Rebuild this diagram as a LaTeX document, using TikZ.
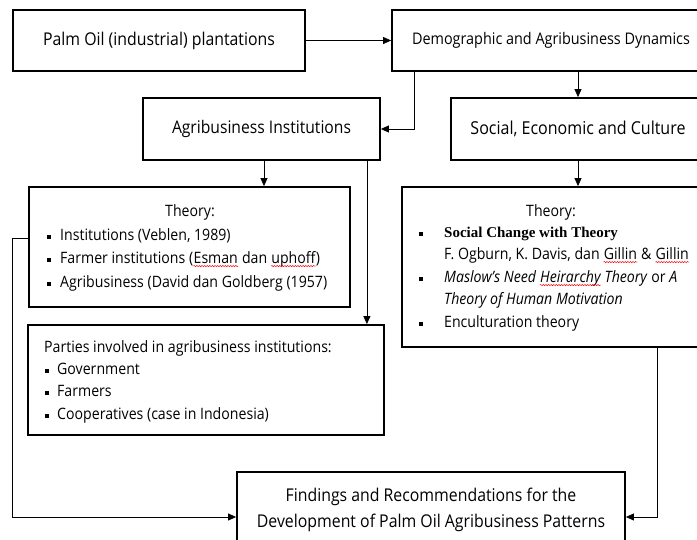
\documentclass[tikz,border=0pt]{standalone}
\usepackage{fontspec}
\setmainfont{Open Sans}[FakeStretch=0.9]
\newfontfamily\serifbold{Liberation Serif}
\usetikzlibrary{arrows.meta,decorations.pathmorphing}
\newcommand\spellmark[1]{\tikz[baseline=(sw.base)]{\node[inner sep=0pt,anchor=base west](sw) at (0,0) {#1};\draw[red, line width=0.5pt, decorate, decoration={snake, amplitude=0.6pt, segment length=2.6pt}] ([yshift=-2.4pt]sw.base west) -- ([yshift=-2.4pt]sw.base east);}}
\newcommand\bulletsq{\rule[0.12em]{4.2pt}{4.2pt}}
\tikzset{
  box/.style={draw, line width=1.8pt, rectangle, inner sep=0pt, align=center},
  arr/.style={line width=0.8pt, -{Triangle[length=8pt,width=7pt]}},
  txt/.style={inner sep=0pt, anchor=mid west},
  ctxt/.style={inner sep=0pt, anchor=mid},
}
\begin{document}
\begin{tikzpicture}[x=1pt,y=-1pt]
\useasboundingbox (0,0) rectangle (697,540);
\clip (0,0) rectangle (697,540);
\fill[white] (0,0) rectangle (697,540);

% boxes
\node[box, minimum width=292pt, minimum height=61pt, font=\fontsize{17.6}{20}\selectfont] (b1) at (159,40.5) {Palm Oil (industrial) plantations};
\node[box, minimum width=318pt, minimum height=61pt, font=\fontsize{16}{18}\selectfont] (b2) at (551,40.5) {Demographic and Agribusiness Dynamics};
\node[box, minimum width=237pt, minimum height=62pt, font=\fontsize{17.4}{20}\selectfont] (b3) at (261.5,129) {Agribusiness Institutions};
\node[box, minimum width=254pt, minimum height=62pt, font=\fontsize{17.8}{20}\selectfont] (b4) at (578,129) {Social, Economic and Culture};
\node[box, minimum width=321pt, minimum height=120pt] (b5) at (189.5,247) {};
\node[box, minimum width=356pt, minimum height=110pt] (b6) at (206,380) {};
\node[box, minimum width=303pt, minimum height=160pt] (b7) at (553.5,267) {};
\node[box, minimum width=388pt, minimum height=76pt, font=\fontsize{17.6}{26}\selectfont] (b8) at (431,510) {Findings and Recommendations for the\\Development of Palm Oil Agribusiness Patterns};

\begin{scope}[font=\fontsize{15.7}{18}\selectfont]
% box 5 text
\node[ctxt] (t5h) at (190,214) {Theory:};
\node[txt] (t5a) at (47,238) {\makebox[13pt][l]{\bulletsq}Institutions (Veblen, 1989)};
\node[txt] (t5b) at (47,261) {\makebox[13pt][l]{\bulletsq}Farmer institutions (\spellmark{Esman} dan \spellmark{uphoff})};
\node[txt] (t5c) at (47,285) {\makebox[13pt][l]{\bulletsq}Agribusiness (David dan Goldberg (1957)};
% box 6 text
\node[txt] (t6h) at (44,350) {Parties involved in agribusiness institutions:};
\node[txt] (t6a) at (45,372) {\makebox[12pt][l]{\bulletsq}Government};
\node[txt] (t6b) at (45,394) {\makebox[12pt][l]{\bulletsq}Farmers};
\node[txt] (t6c) at (45,417) {\makebox[12pt][l]{\bulletsq}Cooperatives (case in Indonesia)};
% box 7 text
\node[ctxt] (t7h) at (551,214) {Theory:};
\node[txt] (t7a) at (419,235) {\makebox[25pt][l]{\bulletsq}{\serifbold\bfseries\fontsize{15}{17}\selectfont Social Change with Theory}};
\node[txt] (t7b) at (444,257) {F. Ogburn, K. Davis, dan \spellmark{Gillin} \& \spellmark{Gillin}};
\node[txt] (t7c) at (419,280) {\makebox[25pt][l]{\bulletsq}\textit{Maslow's Need \spellmark{Heirarchy} Theory} or \textit{A}};
\node[txt] (t7d) at (444,302) {\textit{Theory of Human Motivation}};
\node[txt] (t7e) at (419,325) {\makebox[25pt][l]{\bulletsq}Enculturation theory};
\end{scope}

% connectors
\draw[arr] (b1) -- (b2);
\draw[arr] ([xshift=23pt]b2.south west) |- (b3.east);
\draw[arr] (b2.south -| b4.north) -- (b4.north);
\draw[arr] ([xshift=2.5pt]b3.south) -- ([xshift=2.5pt]b3.south |- b5.north);
\draw[arr] ([xshift=-14pt]b3.south east) -- ([xshift=-14pt]b3.south east |- b6.north);
\draw[arr] (b4.south) -- (b4.south |- b7.north);
\draw[arr] ([yshift=9pt]b5.west) -- ++(-16,0) |- ([yshift=-7pt]b8.west);
\draw[arr] ([xshift=103.5pt]b7.south) |- ([yshift=-7pt]b8.east);
\end{tikzpicture}
\end{document}
